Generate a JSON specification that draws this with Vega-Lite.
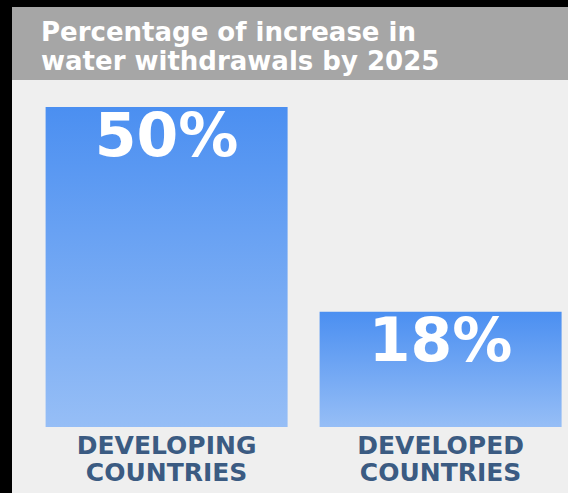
{
  "$schema": "https://vega.github.io/schema/vega-lite/v6.json",
  "background": "#000000",
  "padding": {"left": 12, "top": 7, "right": 0, "bottom": 0},
  "spacing": 0,
  "config": {"view": {"stroke": null}, "concat": {"spacing": 0}},
  "vconcat": [
    {
      "width": 556,
      "height": 73,
      "view": {"fill": "#a6a6a6", "stroke": null},
      "title": {
        "text": ["Percentage of increase in", "water withdrawals by 2025"],
        "orient": "top",
        "anchor": "start",
        "baseline": "alphabetic",
        "offset": -89,
        "dx": 29,
        "color": "#ffffff",
        "font": "DejaVu Sans",
        "fontSize": 26,
        "fontWeight": "bold",
        "lineHeight": 29
      },
      "data": {"values": []},
      "mark": "point"
    },
    {
      "width": 556,
      "height": 413,
      "view": {"fill": "#efefef", "stroke": null},
      "data": {
        "values": [
          {"group": "DEVELOPING COUNTRIES", "increase": 0.5},
          {"group": "DEVELOPED COUNTRIES", "increase": 0.18}
        ]
      },
      "encoding": {
        "x": {
          "field": "group",
          "type": "nominal",
          "sort": null,
          "scale": {"paddingInner": 0.1168, "paddingOuter": 0.073, "align": 0.84},
          "axis": {
            "orient": "bottom",
            "offset": -66,
            "domain": false,
            "ticks": false,
            "title": null,
            "labelAngle": 0,
            "labelFont": "DejaVu Sans",
            "labelFontWeight": "bold",
            "labelFontSize": 25,
            "labelColor": "#3b5b82",
            "labelPadding": 6,
            "labelLineHeight": 27,
            "labelBaseline": "top",
            "labelLimit": 400,
            "labelOverlap": false,
            "labelExpr": "split(datum.label, ' ')"
          }
        },
        "y": {
          "field": "increase",
          "type": "quantitative",
          "scale": {"domain": [-0.1031, 0.5422], "nice": false},
          "axis": null
        }
      },
      "layer": [
        {
          "mark": {
            "type": "bar",
            "color": {
              "gradient": "linear",
              "x1": 0, "y1": 0, "x2": 0, "y2": 1,
              "stops": [
                {"offset": 0, "color": "#4b8ff1"},
                {"offset": 1, "color": "#96bef6"}
              ]
            }
          }
        },
        {
          "mark": {
            "type": "text",
            "baseline": "alphabetic",
            "dy": 49,
            "color": "#ffffff",
            "font": "DejaVu Sans",
            "fontWeight": "bold",
            "fontSize": 60
          },
          "encoding": {
            "text": {"field": "increase", "type": "quantitative", "format": ".0%"}
          }
        }
      ]
    }
  ]
}
